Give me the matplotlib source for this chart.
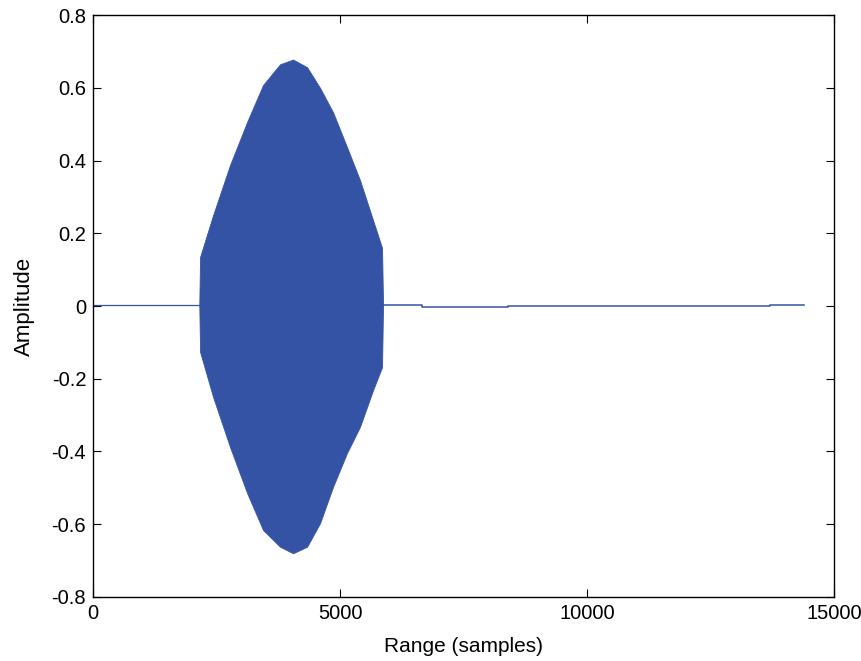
import matplotlib
matplotlib.use("Agg")
import matplotlib.pyplot as plt

# Burst envelope (samples, amplitude)
burst_x = [2150, 2166, 2429, 2773, 3117, 3441, 3785, 4048, 4332, 4595, 4858, 5141, 5404, 5668, 5850, 5870]
burst_upper = [0.003, 0.135, 0.25, 0.388, 0.506, 0.608, 0.665, 0.678, 0.657, 0.60, 0.533, 0.437, 0.346, 0.236, 0.16, 0.003]
burst_lower = [0.003, -0.126, -0.25, -0.388, -0.514, -0.616, -0.662, -0.68, -0.662, -0.597, -0.497, -0.404, -0.332, -0.231, -0.168, 0.003]

# Quiet parts of the trace (samples, amplitude)
pre_x = [0, 2150]
pre_y = [0.003, 0.003]
post_x = [5870, 6660, 6660, 8400, 8400, 13700, 13700, 14400]
post_y = [0.002, 0.002, -0.003, -0.003, 0.001, 0.001, 0.004, 0.004]

xticks = [0, 5000, 10000, 15000]
yticks = [-0.8, -0.6, -0.4, -0.2, 0, 0.2, 0.4, 0.6, 0.8]

color = "#3453a4"
plt.rcParams['font.family'] = ['Liberation Sans', 'DejaVu Sans']

fig = plt.figure(figsize=(8.62, 6.61), dpi=100)
ax = fig.add_axes([0.108, 0.097, 0.8595, 0.88])

ax.plot(pre_x, pre_y, color=color, lw=0.9)
ax.fill_between(burst_x, burst_lower, burst_upper, color=color, lw=0.6, edgecolor=color)
ax.plot(post_x, post_y, color=color, lw=1.1)

ax.set_xlim(0, 15000)
ax.set_ylim(-0.8, 0.8)
ax.set_xticks(xticks)
ax.set_xticklabels([str(t) for t in xticks])
ax.set_yticks(yticks)
ax.set_yticklabels(["%g" % t for t in yticks])
ax.tick_params(direction='in', top=True, right=True, length=6, width=0.8, labelsize=14.5, pad=5)
for s in ax.spines.values():
    s.set_linewidth(1.0)
    s.set_color('black')
ax.set_xlabel("Range (samples)", fontsize=15, labelpad=10)
ax.set_ylabel("Amplitude", fontsize=16, labelpad=12)

fig.savefig("out.png", dpi=100)
